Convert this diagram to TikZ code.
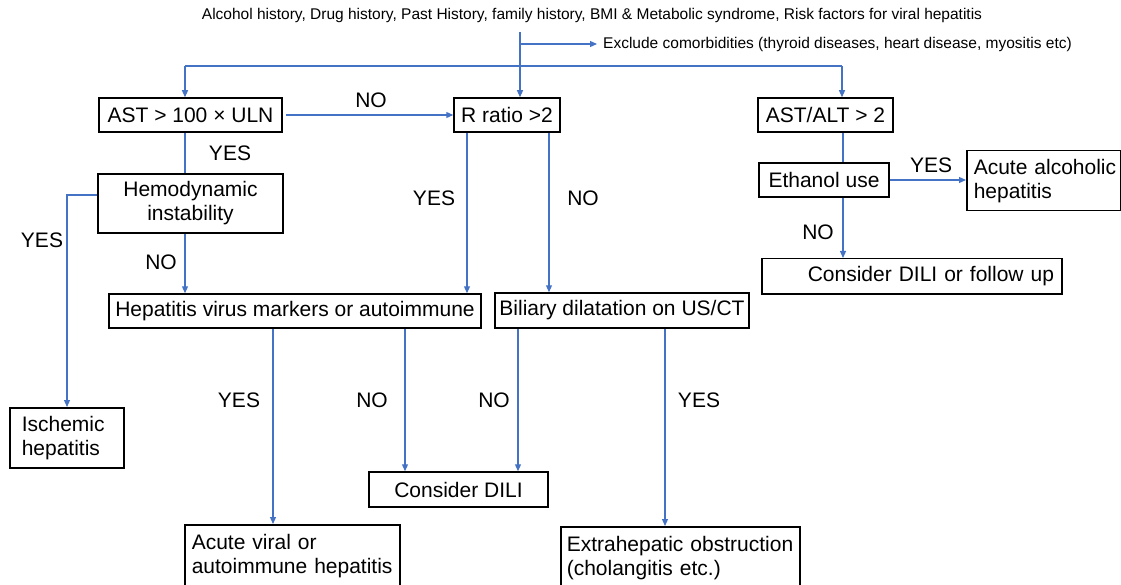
\documentclass[tikz,border=0pt]{standalone}
\usepackage{fontspec}
\setmainfont{Liberation Sans}
\usetikzlibrary{arrows.meta}
\definecolor{connblue}{RGB}{68,114,196}
\newcommand\bigtxt{\fontsize{21}{24}\selectfont}
\newcommand\smalltxt{\fontsize{15.5}{18}\selectfont}
\begin{document}
\begin{tikzpicture}[x=1pt,y=-1pt,
  box/.style={draw=black,line width=1.5pt,inner sep=0pt,font=\bigtxt,align=center},
  lbox/.style={draw=black,line width=1.5pt,inner ysep=0pt,font=\bigtxt,align=left,anchor=north west},
  conn/.style={draw=connblue,line width=1.2pt},
  arr/.style={conn,-{Triangle[length=7pt,width=6pt]}},
  lab/.style={font=\bigtxt,inner sep=0pt},
  note/.style={font=\smalltxt,inner sep=0pt}]
\useasboundingbox (0,0) rectangle (1121,585);
\clip (0,0) rectangle (1121,585);

% texts at top
\node[note] (hist) at (592,15) {Alcohol history, Drug history, Past History, family history, BMI \& Metabolic syndrome, Risk factors for viral hepatitis};
\node[note,anchor=west] (excl) at (603,44) {Exclude comorbidities (thyroid diseases, heart disease, myositis etc)};

% boxes
\node[box,minimum width=183pt,minimum height=34pt] (ast) at (190.5,115) {AST > 100 × ULN};
\node[box,minimum width=106pt,minimum height=34pt] (rr) at (507,115) {R ratio >2};
\node[box,minimum width=135pt,minimum height=34pt] (aa) at (825.5,115) {AST/ALT > 2};
\node[box,minimum width=185pt,minimum height=59pt] (hemo) at (190.5,203.5) {Hemodynamic\\instability};
\node[box,minimum width=372pt,minimum height=34pt] (hep) at (295,311) {Hepatitis virus markers or autoimmune};
\node[box,minimum width=254pt,minimum height=35pt] (bil) at (622,310.5) {Biliary dilatation on US/CT};
\node[box,minimum width=179pt,minimum height=35pt] (dili) at (458.5,489.5) {Consider DILI};
\node[box,minimum width=130pt,minimum height=34pt] (eth) at (824,180) {Ethanol use};
\node[lbox,inner xsep=12pt,text width=90pt,minimum height=60pt] (isch) at (9,407) {\mbox{Ischemic}\\\mbox{hepatitis}};
\node[lbox,inner xsep=7pt,text width=140pt,minimum height=60pt] (alc) at (966,150) {\mbox{Acute alcoholic}\\\mbox{hepatitis}};
\node[lbox,inner xsep=6pt,text width=288pt,minimum height=35pt] (fol) at (761,258) {\hspace*{40pt}\mbox{Consider DILI or follow up}};
\node[lbox,inner xsep=7pt,text width=201pt,minimum height=63pt] (av) at (184,524) {\mbox{Acute viral or}\\\mbox{autoimmune hepatitis}};
\node[lbox,inner xsep=6pt,text width=227pt,minimum height=62pt] (ex) at (560,526) {\mbox{Extrahepatic obstruction}\\\mbox{(cholangitis etc.)}};

% labels
\node[lab] (l1) at (371,100) {NO};
\node[lab] (l2) at (230,153) {YES};
\node[lab] (l3) at (42,240) {YES};
\node[lab] (l4) at (161,262) {NO};
\node[lab] (l5) at (434,198) {YES};
\node[lab] (l6) at (583,198) {NO};
\node[lab] (l7) at (239,400) {YES};
\node[lab] (l8) at (372,400) {NO};
\node[lab] (l9) at (494,400) {NO};
\node[lab] (l10) at (699,400) {YES};
\node[lab] (l11) at (931,165) {YES};
\node[lab] (l12) at (818,232) {NO};

% helper coordinates
\coordinate (vx) at (520,32);
\coordinate (bx) at (520,44);
\coordinate (hL) at (185,66);
\coordinate (hR) at (842,66);
\coordinate (hy) at (0,195);
\coordinate (ix) at (67,0);
\coordinate (r1) at (467,0);
\coordinate (r2) at (549,0);
\coordinate (h1) at (273,0);
\coordinate (h2) at (405,0);
\coordinate (b1) at (518,0);
\coordinate (b2) at (665,0);
\coordinate (e1) at (843,0);

% connectors
\draw[conn,line width=2pt] (hL) -- (hR);
\draw[arr] (vx) -- (rr.north -| vx);
\draw[arr,shorten >=6pt] (bx) -- (excl.west);
\draw[arr] (hL) -- (ast.north -| hL);
\draw[arr] (hR) -- (aa.north -| hR);
\draw[arr,shorten <=3pt] (ast.east) -- (rr.west);
\draw[conn] (ast.south -| hL) -- (hemo.north -| hL);
\draw[arr] (hemo.west |- hy) -| (isch.north -| ix);
\draw[arr] (hemo.south -| hL) -- (hep.north -| hL);
\draw[arr] (rr.south -| r1) -- (hep.north -| r1);
\draw[arr] (rr.south -| r2) -- (bil.north -| r2);
\draw[arr] (hep.south -| h1) -- (av.north -| h1);
\draw[arr] (hep.south -| h2) -- (dili.north -| h2);
\draw[arr] (bil.south -| b1) -- (dili.north -| b1);
\draw[arr] (bil.south -| b2) -- (ex.north -| b2);
\draw[conn] (aa.south -| e1) -- (eth.north -| e1);
\draw[arr] (eth.east) -- (alc.west |- eth.east);
\draw[arr] (eth.south -| e1) -- (fol.north -| e1);
\end{tikzpicture}
\end{document}
